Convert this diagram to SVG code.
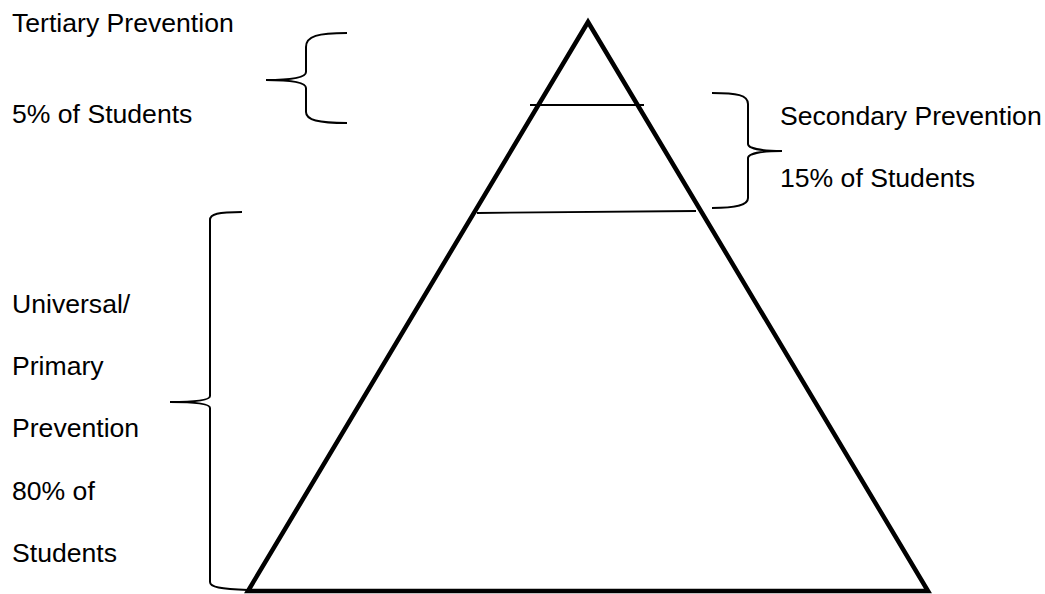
<svg xmlns="http://www.w3.org/2000/svg" width="1045" height="594" viewBox="0 0 1045 594">
<style>
.t{font-family:"Liberation Sans",Arial,sans-serif;font-size:26.6px;fill:#000}
.b{fill:none;stroke:#000;stroke-width:2}
.l{stroke:#000;stroke-width:1.8}
</style>
<rect width="1045" height="594" fill="#fff"/>
<g id="pyramid">
<polygon points="588,22 248,591 928,591" fill="none" stroke="#000" stroke-width="4.5" stroke-linejoin="miter"/>
</g>
<g id="tier-lines">
<line class="l" x1="530" y1="105" x2="644" y2="105"/>
<line class="l" x1="477" y1="213" x2="696" y2="211"/>
</g>
<g id="connectors">
<path class="b" d="M347,33 C318,33 306,36 306,47 L306,72 C306,78 290,80 266,80 C290,80 306,82 306,88 L306,112 C306,120 318,123 347,123"/>
<path class="b" d="M712,93 C737,93 748,95 748,104 L748,144 C748,148 760,151 782,151 C760,151 748,154 748,158 L748,198 C748,205 737,208 712,208"/>
<path class="b" d="M242,212 C218,212 210,214 210,220 L210,396 C210,400 195,402 170,402 C195,402 210,404 210,408 L210,582 C210,587 220,589 248,590"/>
</g>
<g id="tertiary">
<text class="t" x="12" y="32">Tertiary Prevention</text>
<text class="t" x="12" y="123">5% of Students</text>
</g>
<g id="secondary">
<text class="t" x="780" y="125">Secondary Prevention</text>
<text class="t" x="780" y="187">15% of Students</text>
</g>
<g id="universal">
<text class="t" x="12" y="313">Universal/</text>
<text class="t" x="12" y="375">Primary</text>
<text class="t" x="12" y="437">Prevention</text>
<text class="t" x="12" y="500">80% of</text>
<text class="t" x="12" y="562">Students</text>
</g>
</svg>
